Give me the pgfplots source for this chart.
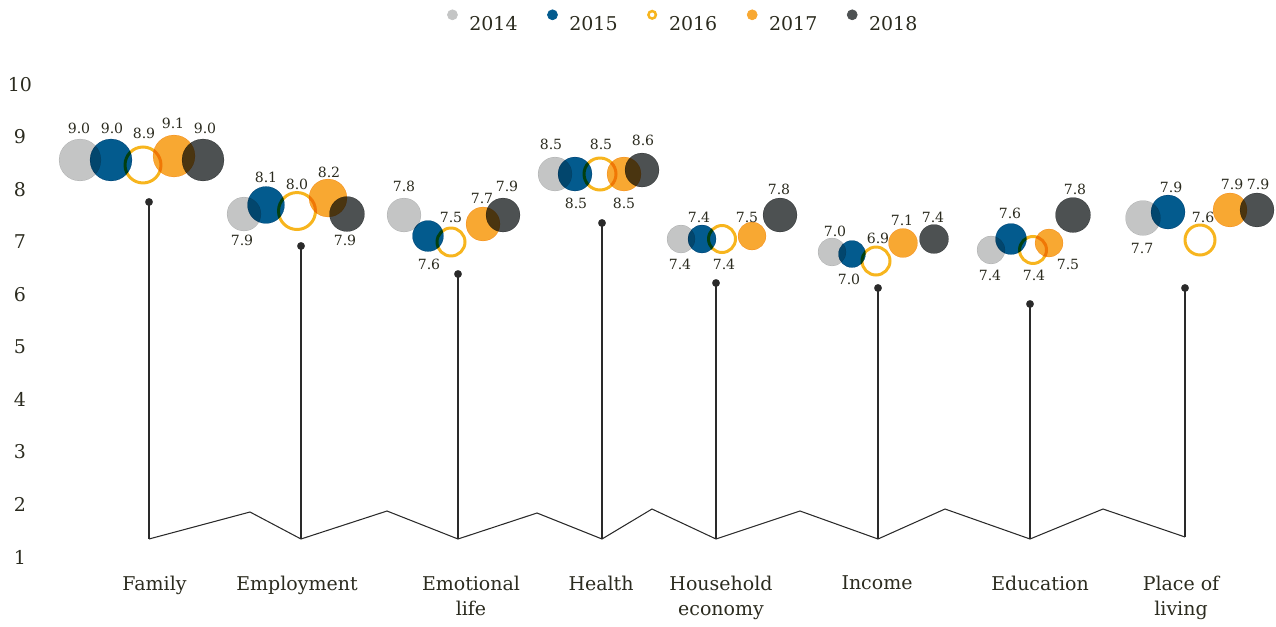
\documentclass[border=0pt]{standalone}
\usepackage{pgfplots}
\usepackage{pgfplotstable}
\pgfplotsset{compat=1.18}
\usepackage{fontspec}
\setmainfont{DejaVu Serif}

\definecolor{c14}{HTML}{C4C5C5}
\definecolor{c15}{HTML}{035B8E}
\definecolor{c16}{HTML}{F7B51E}
\definecolor{c17}{HTML}{F8A832}
\definecolor{c18}{HTML}{4D5152}
\definecolor{textc}{HTML}{2B2B1F}
\definecolor{linec}{HTML}{2A2A2A}

% x = horizontal position (px), y = drawn height on the 1-10 scale, d = diameter (px)
\pgfplotstableread{
x y d
80 8.562 42
244 7.533 34
404 7.514 34
555 8.295 34
681 7.057 28
832 6.810 28
991 6.848 28
1143 7.457 35
}\yrA
\pgfplotstableread{
x y d
111 8.562 42
266 7.705 37
428 7.114 31
575 8.295 34
702 7.057 28
852 6.771 27
1011 7.057 31
1168 7.571 34
}\yrB
\pgfplotstableread{
x y d
143 8.467 39
297 7.590 40
451 7.000 31
600 8.295 35
722 7.057 30
876 6.638 31
1033 6.848 30
1200 7.038 33
}\yrC
\pgfplotstableread{
x y d
174 8.638 42
328 7.838 38
483 7.343 34
624 8.295 34
752 7.114 28
903 6.981 29
1049 6.981 28
1230 7.610 34
}\yrD
\pgfplotstableread{
x y d
203 8.562 42
347 7.533 35
503 7.514 34
642 8.371 34
780 7.514 34
934 7.057 29
1073 7.514 35
1257 7.610 34
}\yrE
\pgfplotstableread{
x y t
79 9.171 9.0
112 9.171 9.0
144 9.076 8.9
173 9.267 9.1
205 9.171 9.0
242 7.038 7.9
266 8.238 8.1
297 8.105 8.0
329 8.333 8.2
345 7.038 7.9
404 8.067 7.8
429 6.581 7.6
451 7.476 7.5
482 7.838 7.7
507 8.067 7.9
551 8.867 8.5
576 7.743 8.5
601 8.867 8.5
624 7.743 8.5
643 8.943 8.6
680 6.581 7.4
699 7.476 7.4
724 6.581 7.4
747 7.476 7.5
779 8.010 7.8
835 7.210 7.0
849 6.295 7.0
878 7.076 6.9
902 7.419 7.1
933 7.476 7.4
990 6.371 7.4
1010 7.552 7.6
1034 6.371 7.4
1068 6.581 7.5
1075 8.010 7.8
1142 6.886 7.7
1171 8.048 7.9
1203 7.476 7.6
1232 8.105 7.9
1258 8.105 7.9
}\labs

% marker size comes from the d column via point meta (0..1000 kept as is)
\pgfplotsset{
  bubble/.style={only marks, mark=*, scatter, forget plot,
    point meta=explicit, point meta min=0, point meta max=1000,
    mark options={draw=#1, fill=#1, line width=0.1pt},
    scatter/@pre marker code/.code={\scope[mark size=\pgfplotspointmetatransformed*0.01cm, blend mode=multiply]},
    scatter/@post marker code/.code={\endscope}},
  ring/.style={only marks, mark=o, scatter, forget plot,
    point meta=explicit, point meta min=0, point meta max=1000,
    mark options={draw=#1, fill=none, line width=0.06cm},
    scatter/@pre marker code/.code={\scope[mark size=\pgfplotspointmetatransformed*0.01cm-0.03cm, blend mode=multiply]},
    scatter/@post marker code/.code={\endscope}},
  dotleg/.style={legend image code/.code={\fill[#1] (0cm,0.2cm) circle (0.1cm); \path (0.26cm,0.2cm);}},
}

\begin{document}
\begin{tikzpicture}
\begin{axis}[
    width=25.52cm, height=12.52cm, scale only axis,
    xmin=0, xmax=1276, ymin=-0.3143, ymax=11.6095,
    clip=false,
    axis line style={draw=none},
    tick style={draw=none},
    ytick={1,...,10},
    xtick={154.5,297,471,601,721,877,1040,1181},
    xticklabels={Family,Employment,{Emotional\\life},Health,{Household\\economy},Income,Education,{Place of\\living}},
    xticklabel style={align=center, anchor=north, yshift=1.13cm},
    yticklabel style={anchor=center, xshift=0.4cm},
    every tick label/.append style={text=textc, font=\fontsize{10.8}{14.6}\selectfont},
    /pgf/number format/assume math mode=true,
    legend style={at={(axis cs:684,11.17)}, anchor=center, draw=none, fill=none,
        font=\fontsize{10.8}{13.6}\selectfont, text=textc,
        /tikz/every even column/.append style={column sep=0.52cm}},
    legend columns=5,
    legend cell align=left,
]
\addplot[draw=none, forget plot] coordinates {(0,-0.3143) (1276,11.6095)};

% zigzag base line
\addplot[linec, line width=0.6pt, forget plot] coordinates {
(149,1.343) (250,1.857) (301,1.343) (387,1.876) (458,1.343) (537,1.838)
(602,1.343) (652,1.914) (716,1.343) (800,1.876) (878,1.343) (945,1.914)
(1030,1.343) (1103,1.914) (1185,1.381)};

% stems
\addplot[linec, line width=0.6pt, forget plot, unbounded coords=jump] coordinates {
(149,1.343) (149,7.762) (149,nan)
(301,1.343) (301,6.924) (301,nan)
(458,1.343) (458,6.390) (458,nan)
(602,1.343) (602,7.362) (602,nan)
(716,1.343) (716,6.219) (716,nan)
(878,1.343) (878,6.124) (878,nan)
(1030,1.343) (1030,5.819) (1030,nan)
(1185,1.381) (1185,6.124)};
\addplot[only marks, mark=*, mark size=0.075cm, mark options={fill=linec, draw=linec, line width=0.1pt}, forget plot] coordinates {
(149,7.762) (301,6.924) (458,6.390) (602,7.362) (716,6.219) (878,6.124) (1030,5.819) (1185,6.124)};

% bubbles
\addplot[bubble=c14] table[x=x,y=y,meta=d] {\yrA};
\addplot[bubble=c15] table[x=x,y=y,meta=d] {\yrB};
\addplot[ring=c16] table[x=x,y=y,meta=d] {\yrC};
\addplot[bubble=c17] table[x=x,y=y,meta=d] {\yrD};
\addplot[bubble=c18] table[x=x,y=y,meta=d] {\yrE};

% legend
\addlegendimage{dotleg=c14}
\addlegendentry{2014}
\addlegendimage{dotleg=c15}
\addlegendentry{2015}
\addlegendimage{legend image code/.code={\draw[c16, line width=0.05cm] (0cm,0.2cm) circle (0.075cm); \path (0.26cm,0.2cm);}}
\addlegendentry{2016}
\addlegendimage{dotleg=c17}
\addlegendentry{2017}
\addlegendimage{dotleg=c18}
\addlegendentry{2018}

% value labels
\addplot[draw=none, mark=none, forget plot, nodes near coords, point meta=explicit symbolic,
  every node near coord/.append style={anchor=center, inner sep=0pt, text=textc,
    font=\fontsize{8}{10}\selectfont}] table[x=x,y=y,meta=t] {\labs};
\end{axis}
\end{tikzpicture}
\end{document}
